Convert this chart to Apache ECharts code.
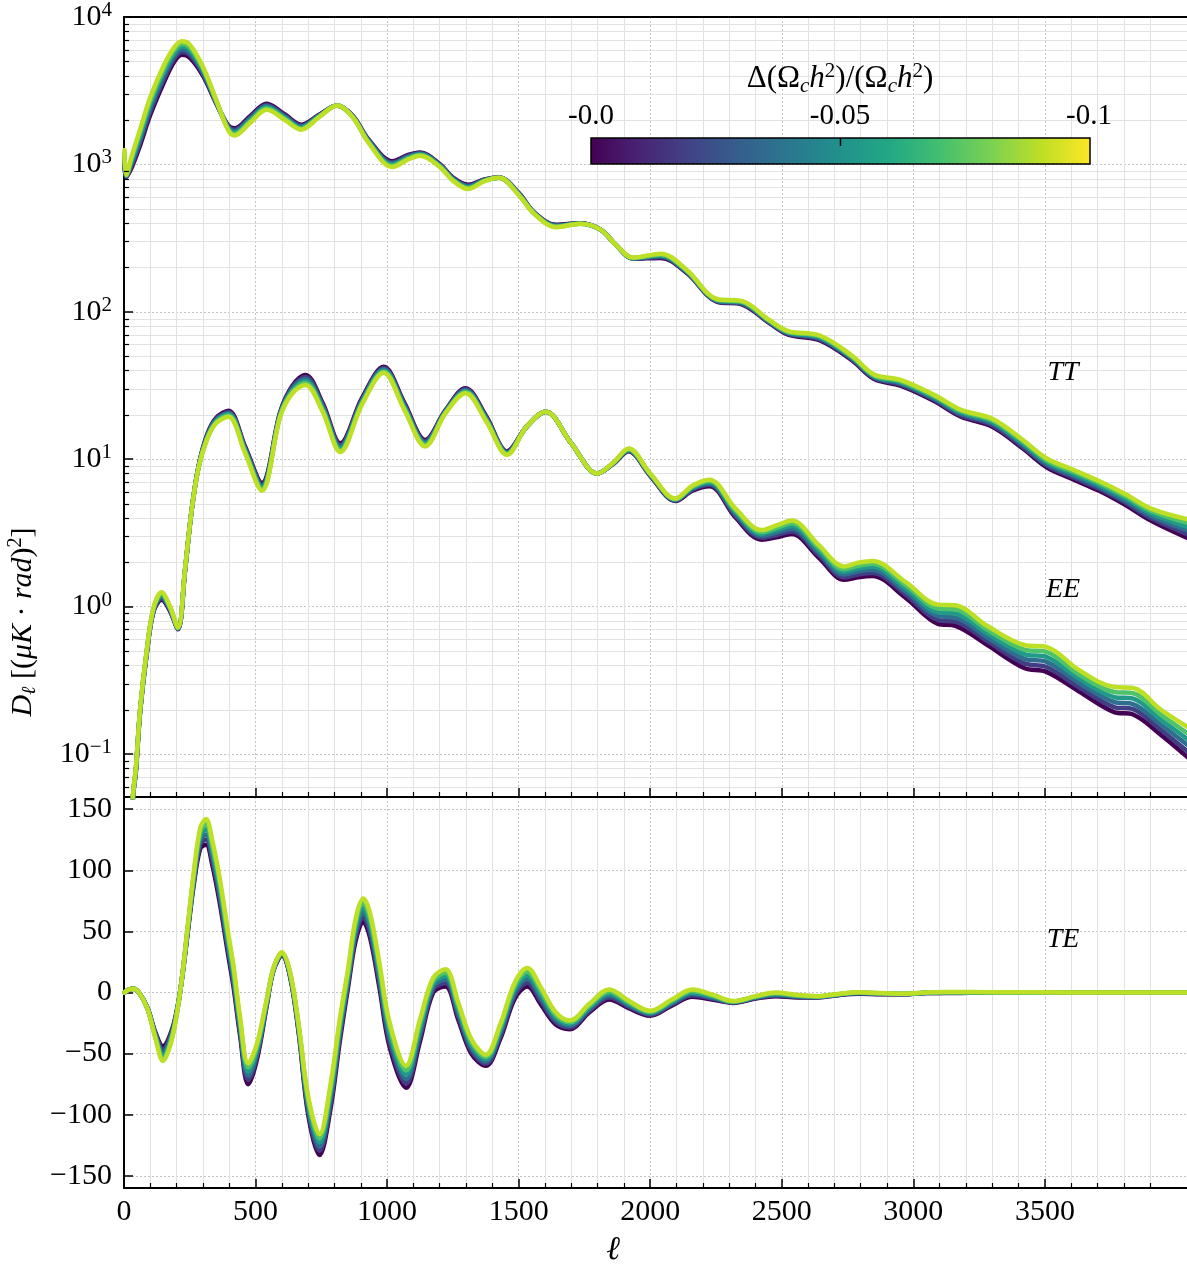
<!DOCTYPE html>
<html>
<head>
<meta charset="utf-8">
<script src="https://cdn.jsdelivr.net/npm/echarts@6/dist/echarts.min.js"></script>
<style>
  html, body { margin: 0; padding: 0; background: #fff; }
  #chart { width: 1187px; height: 1264px; }
</style>
</head>
<body>
<div id="chart"></div>
<script>
// Fractional change of the cold dark matter density for each drawn spectrum
const deltas = [0, -0.018, -0.036, -0.054, -0.072, -0.09];

// Multipoles at which each spectrum is sampled
const ellTT = [2,8,30,60,100,150,190,220,250,300,350,395,420,480,542,610,673,740,810,870,930,1020,1080,1125,1200,1250,1308,1370,1426,1500,1560,1642,1734,1811,1870,1935,2040,2139,2253,2350,2452,2524,2645,2766,2851,2951,3079,3179,3300,3414,3507,3606,3706,3805,3906,4045];
const ellEE = [25,35,45,61,86,112,143,175,205,232,257,283,315,350,397,460,524,594,640,689,755,822,905,987,1066,1145,1222,1298,1377,1456,1529,1602,1700,1799,1860,1918,2000,2096,2160,2225,2325,2424,2480,2538,2640,2737,2790,2844,2970,3094,3160,3280,3421,3506,3630,3763,3835,3940,4045];
const ellTE = [2,15,35,60,90,120,148,180,205,222,240,265,290,312,335,365,395,416,441,472,505,543,568,600,632,665,700,743,785,820,852,880,909,935,970,1010,1072,1125,1175,1222,1270,1320,1375,1430,1485,1533,1585,1640,1694,1770,1844,1920,1999,2080,2160,2240,2315,2400,2476,2560,2639,2720,2794,2880,2963,3050,3119,3300,3600,4045];

// D_ell^TT in (muK)^2, one array per delta
const tt000 = [1000,820,960,1330,2170,3550,4950,5550,5300,4000,2600,1850,1760,2130,2580,2190,1860,2160,2510,2130,1470,1050,1160,1205,1005,815,728,790,815,640,470,389,399,361,284,229,232,183,117,112,84,70,64,47,35,31.5,24.8,19.5,16.6,11.9,8.8,7.3,6.1,4.9,3.8,2.9];
const tt018 = [1046,826,995,1397,2292,3747,5178,5789,5521,4114,2629,1823,1720,2087,2532,2152,1831,2144,2510,2120,1455,1031,1144,1193,996,807,718,786,814,636,468,386,398,361,284,230,235,185,118,113,84.8,70.8,65,47.7,35.5,32.1,25.3,19.9,17.0,12.2,9.05,7.53,6.29,5.07,3.95,3.08];
const tt036 = [1093,832,1032,1467,2420,3955,5417,6037,5751,4230,2659,1797,1681,2044,2485,2115,1803,2128,2510,2110,1440,1013,1127,1181,987,799,708,782,813,632,466,383,397,361,284,231,238,187,119,114,85.6,71.6,66,48.4,36,32.7,25.8,20.4,17.5,12.6,9.3,7.76,6.48,5.24,4.1,3.27];
const tt054 = [1143,838,1070,1541,2555,4174,5666,6297,5991,4350,2689,1771,1643,2003,2439,2079,1775,2112,2510,2100,1425,995,1111,1169,978,791,699,778,812,628,464,380,396,361,284,231,241,188,120,116,86.4,72.4,67,49.1,36.5,33.3,26.3,20.8,17.9,12.9,9.56,8.0,6.68,5.42,4.26,3.46];
const tt072 = [1195,844,1109,1618,2698,4406,5928,6567,6240,4474,2719,1745,1606,1961,2394,2044,1747,2096,2510,2090,1410,977,1096,1157,969,783,689,774,811,624,462,378,396,361,284,232,245,190,121,117,87.2,73.2,68,49.8,37,33.9,26.8,21.3,18.4,13.3,9.83,8.24,6.89,5.61,4.43,3.68];
const tt090 = [1250,850,1150,1700,2850,4650,6200,6850,6500,4600,2750,1720,1570,1920,2350,2010,1720,2080,2510,2080,1395,960,1080,1145,960,775,680,770,810,620,460,375,395,361,284,233,248,192,122,118,88,74,69,50.5,37.5,34.5,27.3,21.7,18.8,13.6,10.1,8.5,7.1,5.8,4.6,3.9];

// D_ell^EE in (muK)^2
const ee000 = [.025,.053,.075,.19,.47,.92,1.11,.93,.70,1.75,4.5,8.9,14.5,19,21.3,12.2,6.9,21,31.5,37.3,24,12.8,26,42.3,24,13.5,21.5,30.3,19.5,11.3,16.5,21,12.8,8.0,9.3,11.3,7.7,5.2,6.1,6.56,4.0,2.84,2.95,3.1,2.15,1.52,1.58,1.61,1.15,.762,.74,.55,.383,.36,.265,.192,.185,.135,.094];
const ee018 = [.025,.0534,.076,.192,.476,.932,1.137,.944,.704,1.76,4.5,8.86,14.3,18.7,20.9,11.96,6.73,20.7,30.8,36.15,23.37,12.46,25.48,41.51,23.48,13.23,21.3,29.82,19.2,11.18,16.5,21,12.8,8.0,9.34,11.4,7.76,5.24,6.2,6.69,4.11,2.93,3.06,3.23,2.24,1.58,1.65,1.69,1.21,.809,.789,.584,.411,.389,.283,.208,.201,.146,.103];
const ee036 = [.025,.0538,.077,.194,.482,.944,1.164,.958,.708,1.77,4.5,8.82,14.1,18.4,20.5,11.72,6.57,20.4,30.05,35.04,22.75,12.13,24.97,40.74,22.97,12.96,21.1,29.36,18.9,11.06,16.5,21,12.8,8.0,9.38,11.5,7.82,5.28,6.3,6.83,4.23,3.02,3.18,3.37,2.33,1.65,1.73,1.77,1.27,.86,.841,.619,.442,.421,.303,.225,.218,.158,.114];
const ee054 = [.025,.0542,.078,.196,.488,.956,1.192,.972,.712,1.78,4.5,8.78,13.9,18.1,20.2,11.48,6.41,20.1,29.35,33.96,22.15,11.82,24.47,39.98,22.46,12.7,20.9,28.9,18.6,10.94,16.5,21,12.8,8.0,9.42,11.6,7.88,5.32,6.4,6.97,4.35,3.11,3.3,3.52,2.42,1.72,1.81,1.86,1.33,.913,.897,.657,.475,.455,.324,.243,.237,.171,.125];
const ee072 = [.025,.0546,.079,.198,.494,.968,1.221,.986,.716,1.79,4.5,8.74,13.7,17.8,19.8,11.24,6.25,19.8,28.67,32.91,21.57,11.5,23.98,39.24,21.97,12.45,20.7,28.44,18.3,10.82,16.5,21,12.8,8.0,9.46,11.7,7.94,5.36,6.5,7.12,4.47,3.2,3.42,3.67,2.52,1.79,1.89,1.95,1.4,.97,.957,.697,.51,.492,.346,.263,.258,.185,.137];
const ee090 = [.025,.055,.08,.2,.5,.98,1.25,1.0,.72,1.8,4.5,8.7,13.5,17.5,19.4,11,6.1,19.5,28,31.9,21,11.2,23.5,38.5,21.5,12.2,20.5,28,18,10.7,16.5,21,12.8,8.0,9.5,11.8,8.0,5.4,6.6,7.26,4.6,3.3,3.55,3.83,2.62,1.87,1.98,2.04,1.47,1.03,1.02,.74,.548,.532,.37,.284,.28,.2,.151];

// D_ell^TE in (muK)^2
const te000 = [0,2,3,-1,-13,-33,-44,-32,-10,14,45,88,118,121,105,72,32,5,-35,-75,-55,-10,18,30,12,-35,-100,-133,-95,-40,5,42,58,45,5,-45,-78,-40,0,5,-22,-50,-60,-38,-5,5,-10,-26,-30,-16,-5.7,-13,-19,-11,-3.5,-6,-8.5,-5,-3,-4,-4,-2,-1,-1.5,-1.5,-0.5,-0.5,0,0,0];
const te018 = [0,2,3,-1,-13.2,-34,-46.4,-33.6,-10.4,14.2,46,90,121.4,125.2,109,76,35.6,8.4,-32,-71.6,-52.4,-9,18.4,30.6,12.8,-33.6,-97,-129.6,-91,-36.4,8,45.6,61.8,49,9,-41,-74.4,-36.4,2.4,7.8,-19.2,-47.6,-58.2,-35.6,-2.4,8,-7.2,-24,-28.6,-14.6,-4.1,-11.8,-18.2,-10,-2.3,-5.2,-8.2,-4.6,-2.4,-3.6,-3.8,-1.8,-0.7,-1.3,-1.4,-0.4,-0.3,0.1,0,0];
const te036 = [0,2,3,-1,-13.4,-35,-48.8,-35.2,-10.8,14.4,47,92,124.8,129.4,113,80,39.2,11.8,-29,-68.2,-49.8,-8,18.8,31.2,13.6,-32.2,-94,-126.2,-87,-32.8,11,49.2,65.6,53,13,-37,-70.8,-32.8,4.8,10.6,-16.4,-45.2,-56.4,-33.2,0.2,11,-4.4,-22,-27.2,-13.2,-2.4,-10.6,-17.4,-9,-1.1,-4.4,-7.9,-4.2,-1.8,-3.2,-3.6,-1.6,-0.5,-1.1,-1.3,-0.3,-0.1,0.1,0,0];
const te054 = [0,2,3,-1,-13.6,-36,-51.2,-36.8,-11.2,14.6,48,94,128.2,133.6,117,84,42.8,15.2,-26,-64.8,-47.2,-7,19.2,31.8,14.4,-30.8,-91,-122.8,-83,-29.2,14,52.8,69.4,57,17,-33,-67.2,-29.2,7.2,13.4,-13.6,-42.8,-54.6,-30.8,2.8,14,-1.6,-20,-25.8,-11.8,-0.8,-9.4,-16.6,-8,0.1,-3.6,-7.6,-3.8,-1.2,-2.8,-3.4,-1.4,-0.2,-0.9,-1.2,-0.2,0.1,0.2,0,0];
const te072 = [0,2,3,-1,-13.8,-37,-53.6,-38.4,-11.6,14.8,49,96,131.6,137.8,121,88,46.4,18.6,-23,-61.4,-44.6,-6,19.6,32.4,15.2,-29.4,-88,-119.4,-79,-25.6,17,56.4,73.2,61,21,-29,-63.6,-25.6,9.6,16.2,-10.8,-40.4,-52.8,-28.4,5.4,17,1.2,-18,-24.4,-10.4,0.9,-8.2,-15.8,-7,1.3,-2.8,-7.3,-3.4,-0.6,-2.4,-3.2,-1.2,0,-0.7,-1.1,-0.1,0.3,0.2,0,0];
const te090 = [0,2,3,-1,-14,-38,-56,-40,-12,15,50,98,135,142,125,92,50,22,-20,-58,-42,-5,20,33,16,-28,-85,-116,-75,-22,20,60,77,65,25,-25,-60,-22,12,19,-8,-38,-51,-26,8,20,4,-16,-23,-9,2.5,-7,-15,-6,2.5,-2,-7,-3,0,-2,-3,-1,0.3,-0.5,-1,0,0.5,0.3,0,0];

// Tick values
const ellTicks = [0, 500, 1000, 1500, 2000, 2500, 3000, 3500];
const teTicks = [-150, -100, -50, 0, 50, 100, 150];
const logMinorTicks = [0.06,0.07,0.08,0.09,0.2,0.3,0.4,0.5,0.6,0.7,0.8,0.9,2,3,4,5,6,7,8,9,20,30,40,50,60,70,80,90,200,300,400,500,600,700,800,900,2000,3000,4000,5000,6000,7000,8000,9000];
const cbarTicks = ['-0.0', '-0.05', '-0.1'];
const cbarRange = [0, -0.1];

// ---- styling ----
const FONT = '"Liberation Serif", "DejaVu Serif", serif';
const ELL_MAX = 4040;
const VIRIDIS = ['#440154','#482475','#414487','#355f8d','#2a788e','#21918c','#22a884','#44bf70','#7ad151','#bddf26','#fde725'];

function hexToRgb(h) { return [1, 3, 5].map(i => parseInt(h.slice(i, i + 2), 16)); }
function viridis(t) {
  t = Math.min(1, Math.max(0, t));
  const f = t * (VIRIDIS.length - 1);
  const i = Math.min(VIRIDIS.length - 2, Math.floor(f));
  const a = hexToRgb(VIRIDIS[i]), b = hexToRgb(VIRIDIS[i + 1]);
  const u = f - i;
  return 'rgb(' + a.map((v, j) => Math.round(v + (b[j] - v) * u)).join(',') + ')';
}
function deltaColor(d) { return viridis((d - cbarRange[0]) / (cbarRange[1] - cbarRange[0])); }

const gridMajor = { color: '#c4c4c4', type: [2, 2], width: 1 };
const gridMinor = { color: '#e2e2e2', width: 1 };
const spine = { color: '#000', width: 2 };
const TICK_FONT = 30;

function ellAxis(gridIndex, withLabels) {
  return {
    type: 'value', gridIndex, min: 0, max: ELL_MAX, interval: 500, position: 'bottom',
    axisLine: { show: true, onZero: false, lineStyle: spine },
    axisTick: { show: true, inside: true, length: 9, customValues: ellTicks, lineStyle: { color: '#000', width: 1.5 } },
    minorTick: { show: true, splitNumber: 5, length: 5, lineStyle: { color: '#000', width: 1.2 } },
    axisLabel: withLabels
      ? { show: true, customValues: ellTicks, margin: 9, color: '#000', fontFamily: FONT, fontSize: TICK_FONT, formatter: v => String(v) }
      : { show: false },
    splitLine: { show: true, lineStyle: gridMajor },
    minorSplitLine: { show: true, lineStyle: gridMinor }
  };
}

const series = [];

// minor grid lines of the logarithmic panel
series.push({
  type: 'custom', xAxisIndex: 0, yAxisIndex: 0, z: 1, silent: true, animation: false, clip: true,
  data: logMinorTicks.map(v => [0, v]),
  renderItem: (params, api) => {
    const p = api.coord([0, api.value(1)]);
    const cs = params.coordSys;
    const y = Math.round(p[1]) + 0.5;
    return { type: 'line', shape: { x1: cs.x, y1: y, x2: cs.x + cs.width, y2: y }, style: { stroke: gridMinor.color, lineWidth: 1 } };
  }
});

const groups = [
  { ell: ellTT, curves: [tt000, tt018, tt036, tt054, tt072, tt090], grid: 0 },
  { ell: ellEE, curves: [ee000, ee018, ee036, ee054, ee072, ee090], grid: 0 },
  { ell: ellTE, curves: [te000, te018, te036, te054, te072, te090], grid: 1 }
];
deltas.forEach((d, k) => {
  groups.forEach(g => {
    series.push({
      type: 'line',
      xAxisIndex: g.grid === 0 ? 0 : 2,
      yAxisIndex: g.grid,
      data: g.ell.map((l, i) => [l, g.curves[k][i]]),
      showSymbol: false, symbol: 'none',
      smooth: 0.35,
      clip: true,
      z: 2,
      silent: true,
      animation: false,
      lineStyle: { color: deltaColor(d), width: 4.5, cap: 'round', join: 'round' }
    });
  });
});

// minor ticks of the logarithmic axis
series.push({
  type: 'custom', xAxisIndex: 0, yAxisIndex: 0, z: 5, silent: true, animation: false, clip: false,
  data: logMinorTicks.map(v => [0, v]),
  renderItem: (params, api) => {
    const p = api.coord([0, api.value(1)]);
    const cs = params.coordSys;
    const y = Math.round(p[1]) + 0.5;
    return { type: 'line', shape: { x1: cs.x, y1: y, x2: cs.x + 5, y2: y }, style: { stroke: '#000', lineWidth: 1.2 } };
  }
});

function minus(v) { return v < 0 ? '\u2212' + Math.abs(v) : String(v); }

const labelRich = {
  b: { fontFamily: FONT, fontSize: TICK_FONT, color: '#000', lineHeight: 34 },
  s: { fontFamily: FONT, fontSize: 21, color: '#000', lineHeight: 21, verticalAlign: 'top' }
};

const option = {
  animation: false,
  backgroundColor: '#ffffff',
  grid: [
    { left: 124, top: 17, width: 1063, height: 780, containLabel: false, outerBoundsMode: 'none' },
    { left: 124, top: 797, width: 1063, height: 391, containLabel: false, outerBoundsMode: 'none' }
  ],
  xAxis: [
    ellAxis(0, false),
    { type: 'value', gridIndex: 0, min: 0, max: ELL_MAX, position: 'top',
      axisLine: { show: true, onZero: false, lineStyle: spine },
      axisTick: { show: false }, axisLabel: { show: false }, splitLine: { show: false } },
    ellAxis(1, true)
  ],
  yAxis: [
    { type: 'log', logBase: 10, gridIndex: 0, min: 0.051, max: 10000,
      axisLine: { show: true, onZero: false, lineStyle: spine },
      axisTick: { show: true, inside: true, length: 9, lineStyle: { color: '#000', width: 1.5 } },
      axisLabel: {
        show: true, margin: 12,
        formatter: v => {
          const l = Math.log10(v), e = Math.round(l);
          if (Math.abs(l - e) > 1e-6) return '';
          return '{b|10}{s|' + minus(e) + '}';
        },
        rich: labelRich
      },
      splitLine: { show: true, lineStyle: gridMajor },
      minorTick: { show: false }, minorSplitLine: { show: false } },
    { type: 'value', gridIndex: 1, min: -160, max: 160, splitNumber: 6,
      axisLine: { show: true, onZero: false, lineStyle: spine },
      axisTick: { show: true, inside: true, length: 9, customValues: teTicks, lineStyle: { color: '#000', width: 1.5 } },
      axisLabel: { show: true, customValues: teTicks, margin: 12, color: '#000', fontFamily: FONT, fontSize: TICK_FONT, formatter: minus },
      splitLine: { show: true, lineStyle: gridMajor } }
  ],
  series,
  graphic: [
    // axis titles
    { type: 'text', x: 613, y: 1250, z: 10, style: {
        text: '\u2113', fill: '#000', fontFamily: FONT, fontStyle: 'italic', fontSize: 33, align: 'center', verticalAlign: 'middle' } },
    { type: 'text', x: 23, y: 622, rotation: Math.PI / 2, z: 10, style: {
        text: '{i|D}{sub|\u2113}{n| [(}{i|\u03bcK}{n| \u00b7 }{i|rad}{n|)}{sup|2}{n|]}',
        align: 'center', verticalAlign: 'middle',
        rich: {
          i: { fontFamily: FONT, fontStyle: 'italic', fontSize: 30, fill: '#000', lineHeight: 34 },
          n: { fontFamily: FONT, fontSize: 30, fill: '#000', lineHeight: 34 },
          sub: { fontFamily: FONT, fontStyle: 'italic', fontSize: 20, fill: '#000', lineHeight: 34, verticalAlign: 'bottom' },
          sup: { fontFamily: FONT, fontSize: 20, fill: '#000', lineHeight: 20, verticalAlign: 'top' }
        } } },
    // spectrum annotations
    { type: 'text', x: 1063, y: 373, z: 10, style: { text: 'TT', fill: '#000', fontFamily: FONT, fontStyle: 'italic', fontSize: 28, align: 'center', verticalAlign: 'middle' } },
    { type: 'text', x: 1063, y: 590, z: 10, style: { text: 'EE', fill: '#000', fontFamily: FONT, fontStyle: 'italic', fontSize: 28, align: 'center', verticalAlign: 'middle' } },
    { type: 'text', x: 1063, y: 940, z: 10, style: { text: 'TE', fill: '#000', fontFamily: FONT, fontStyle: 'italic', fontSize: 28, align: 'center', verticalAlign: 'middle' } },
    // colour bar
    { type: 'rect', z: 10, shape: { x: 591, y: 138, width: 499, height: 26 }, style: {
        fill: { type: 'linear', x: 0, y: 0, x2: 1, y2: 0,
                colorStops: VIRIDIS.map((c, i) => ({ offset: i / (VIRIDIS.length - 1), color: c })) },
        stroke: '#000', lineWidth: 1.5 } },
    { type: 'line', z: 11, shape: { x1: 840.5, y1: 138, x2: 840.5, y2: 146 }, style: { stroke: '#000', lineWidth: 1.5 } },
    { type: 'text', x: 591, y: 116, z: 10, style: { text: cbarTicks[0], fill: '#000', fontFamily: FONT, fontSize: 29, align: 'center', verticalAlign: 'middle' } },
    { type: 'text', x: 840, y: 116, z: 10, style: { text: cbarTicks[1], fill: '#000', fontFamily: FONT, fontSize: 29, align: 'center', verticalAlign: 'middle' } },
    { type: 'text', x: 1089, y: 116, z: 10, style: { text: cbarTicks[2], fill: '#000', fontFamily: FONT, fontSize: 29, align: 'center', verticalAlign: 'middle' } },
    { type: 'text', x: 840, y: 79, z: 10, style: {
        text: '{n|\u0394(\u03a9}{sub|c}{i|h}{sup|2}{n|)/(\u03a9}{sub|c}{i|h}{sup|2}{n|)}',
        align: 'center', verticalAlign: 'middle',
        rich: {
          n: { fontFamily: FONT, fontSize: 31, fill: '#000', lineHeight: 36 },
          i: { fontFamily: FONT, fontStyle: 'italic', fontSize: 31, fill: '#000', lineHeight: 36 },
          sub: { fontFamily: FONT, fontStyle: 'italic', fontSize: 21, fill: '#000', lineHeight: 36, verticalAlign: 'bottom' },
          sup: { fontFamily: FONT, fontSize: 21, fill: '#000', lineHeight: 21, verticalAlign: 'top' }
        } } }
  ]
};

const chart = echarts.init(document.getElementById('chart'), null, { renderer: 'canvas', width: 1187, height: 1264 });
chart.setOption(option);
</script>
</body>
</html>
